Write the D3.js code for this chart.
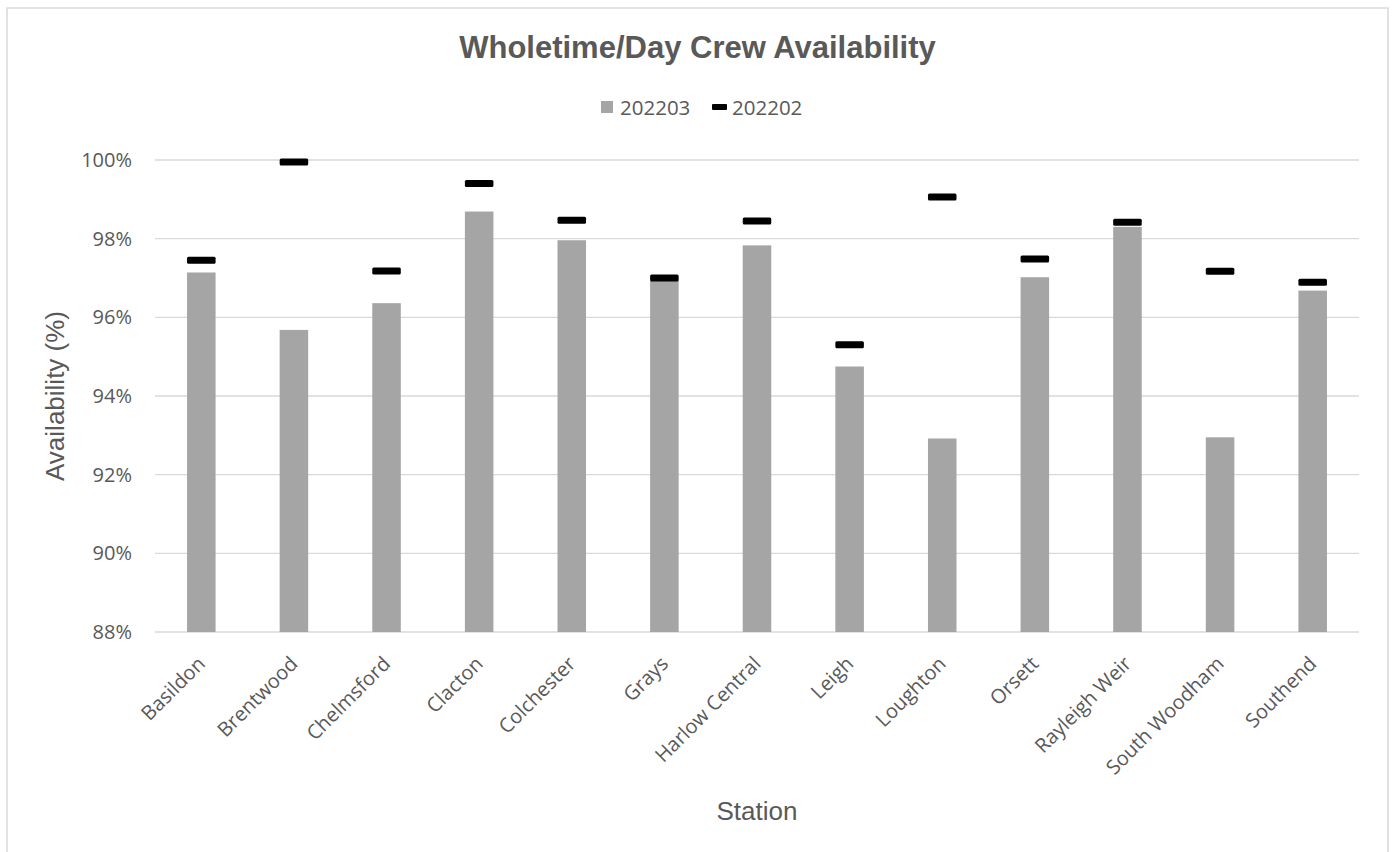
<!DOCTYPE html>
<html>
<head>
<meta charset="utf-8">
<script src="https://cdn.jsdelivr.net/npm/d3@7"></script>
<style>
  html, body { margin: 0; padding: 0; background: #fff; }
  svg { display: block; }
</style>
</head>
<body>
<svg id="chart" width="1393" height="852"></svg>
<script>
const stations = ["Basildon", "Brentwood", "Chelmsford", "Clacton", "Colchester", "Grays",
  "Harlow Central", "Leigh", "Loughton", "Orsett", "Rayleigh Weir", "South Woodham", "Southend"];
const values202203 = [97.14, 95.68, 96.36, 98.69, 97.96, 96.93, 97.83, 94.75, 92.92, 97.02, 98.30, 92.95, 96.68];
const values202202 = [97.45, 99.95, 97.18, 99.40, 98.47, 97.00, 98.45, 95.30, 99.06, 97.48, 98.42, 97.17, 96.89];
const yTicks = [88, 90, 92, 94, 96, 98, 100];
const seriesNames = ["202203", "202202"];
const chartTitle = "Wholetime/Day Crew Availability";
const xTitle = "Station";
const yTitle = "Availability (%)";

const svg = d3.select("#chart");
const textColor = "#595959";
const tickFont = "'Open Sans', sans-serif";
const titleFont = "'Liberation Sans', Arial, sans-serif";

// outer chart border
svg.append("rect")
  .attr("x", 7).attr("y", 8).attr("width", 1381).attr("height", 900)
  .attr("fill", "#fff").attr("stroke", "#d9d9d9").attr("stroke-width", 1.5);

const plot = { left: 155, right: 1359, top: 160, bottom: 632 };

const x = d3.scaleBand().domain(stations).range([plot.left, plot.right]);
const y = d3.scaleLinear().domain([88, 100]).range([plot.bottom, plot.top]);
const barW = x.bandwidth() * 0.308;

// gridlines
svg.append("g").selectAll("line").data(yTicks).join("line")
  .attr("x1", plot.left).attr("x2", plot.right)
  .attr("y1", d => y(d)).attr("y2", d => y(d))
  .attr("stroke", "#d9d9d9").attr("stroke-width", 1.3);

// y tick labels
svg.append("g").selectAll("text").data(yTicks).join("text")
  .attr("x", 132).attr("y", d => y(d))
  .attr("dy", "0.35em")
  .attr("text-anchor", "end")
  .attr("font-family", tickFont).attr("font-size", 20)
  .attr("fill", textColor)
  .text(d => d + "%");

// bars
svg.append("g").selectAll("rect").data(stations).join("rect")
  .attr("x", (d) => x(d) + x.bandwidth() / 2 - barW / 2)
  .attr("width", barW)
  .attr("y", (d, i) => y(values202203[i]))
  .attr("height", (d, i) => y(88) - y(values202203[i]))
  .attr("fill", "#a5a5a5");

// markers (dash)
const mH = 7;
svg.append("g").selectAll("rect").data(stations).join("rect")
  .attr("x", (d) => x(d) + x.bandwidth() / 2 - barW / 2)
  .attr("width", barW)
  .attr("y", (d, i) => y(values202202[i]) - mH / 2)
  .attr("height", mH)
  .attr("rx", 1.5)
  .attr("fill", "#000");

// x labels
svg.append("g").selectAll("text").data(stations).join("text")
  .attr("transform", d => `translate(${x(d) + x.bandwidth() / 2 + 5},665) rotate(-45)`)
  .attr("text-anchor", "end")
  .attr("font-family", tickFont).attr("font-size", 20)
  .attr("fill", textColor)
  .text(d => d);

// title
svg.append("text")
  .attr("x", 697.5).attr("y", 58)
  .attr("text-anchor", "middle")
  .attr("font-family", titleFont).attr("font-weight", "bold").attr("font-size", 31)
  .attr("fill", textColor)
  .text(chartTitle);

// legend
const lg = svg.append("g");
lg.append("rect").attr("x", 601).attr("y", 101).attr("width", 12).attr("height", 12).attr("fill", "#a5a5a5");
lg.append("text").attr("x", 620).attr("y", 115)
  .attr("font-family", tickFont).attr("font-size", 20.5).attr("fill", textColor).text(seriesNames[0]);
lg.append("rect").attr("x", 712).attr("y", 104).attr("width", 15).attr("height", 6).attr("rx", 1).attr("fill", "#000");
lg.append("text").attr("x", 732).attr("y", 115)
  .attr("font-family", tickFont).attr("font-size", 20.5).attr("fill", textColor).text(seriesNames[1]);

// axis titles
svg.append("text")
  .attr("x", (plot.left + plot.right) / 2).attr("y", 820)
  .attr("text-anchor", "middle")
  .attr("font-family", titleFont).attr("font-size", 26)
  .attr("fill", textColor)
  .text(xTitle);

svg.append("text")
  .attr("transform", `translate(64,${(plot.top + plot.bottom) / 2}) rotate(-90)`)
  .attr("text-anchor", "middle")
  .attr("font-family", titleFont).attr("font-size", 26)
  .attr("fill", textColor)
  .text(yTitle);
</script>
</body>
</html>
